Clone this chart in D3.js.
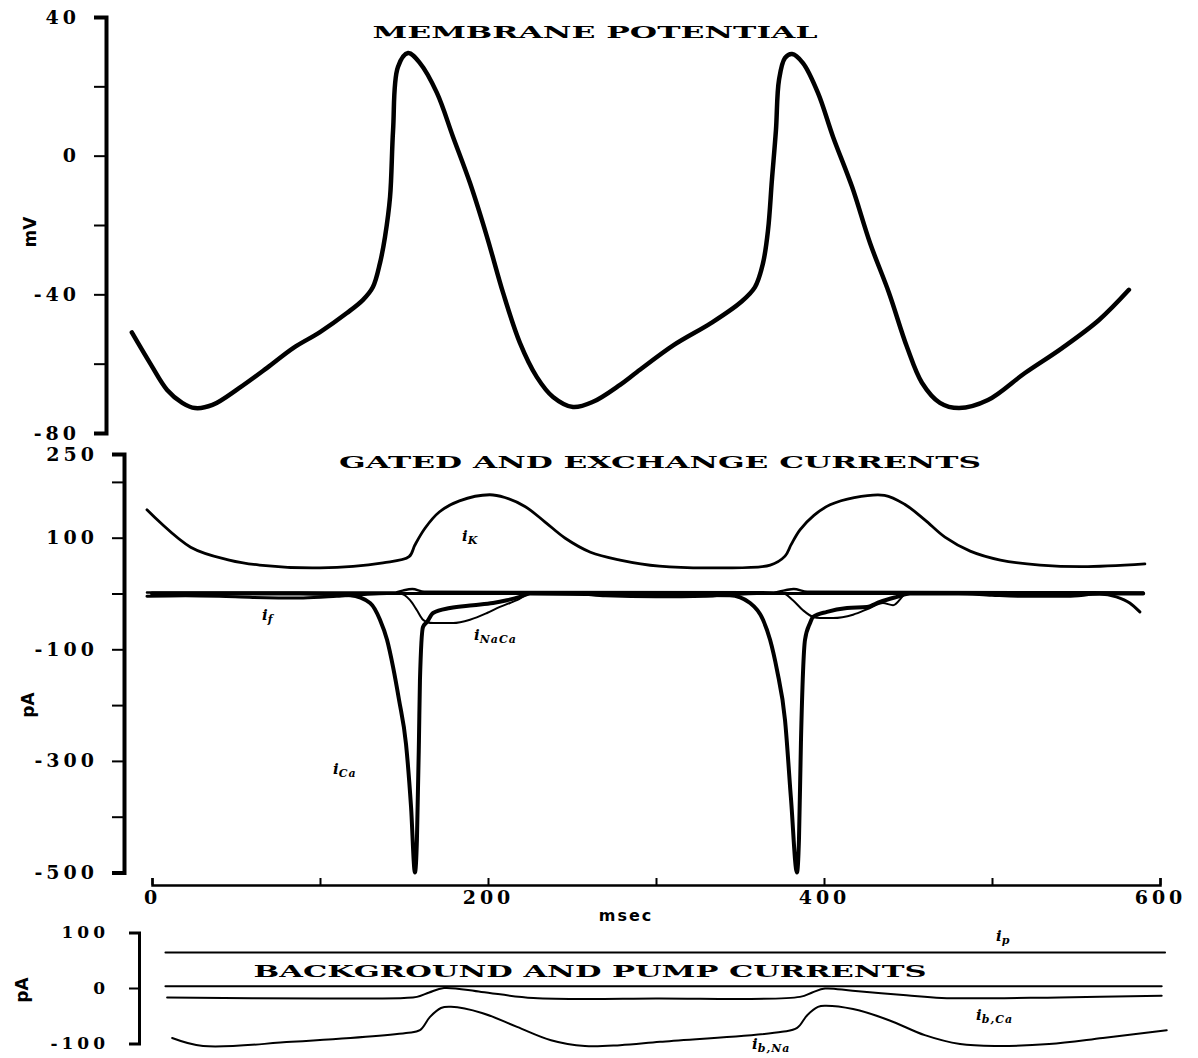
<!DOCTYPE html>
<html>
<head>
<meta charset="utf-8">
<script src="https://cdn.jsdelivr.net/npm/d3@7"></script>
<style>
  body { margin: 0; background: #fff; }
  svg { display: block; }
  .tick text { font-family: "DejaVu Serif", serif; font-weight: bold; }
</style>
</head>
<body>
<svg width="1198" height="1058"></svg>
<script>
// time in msec, values in mV / pA

const membranePotential = [
  [-12, -51], [-1, -60], [9, -67.6], [18, -71.3], [25.6, -72.8], [36, -71.9], [52, -67], [68.5, -61.2],
  [84, -55.5], [100, -50.9], [116, -45.4], [125.6, -41.6], [131.5, -37.9], [135.7, -31], [138.7, -23.4],
  [141.7, -11.9], [143.5, 7.4], [146.4, 25.6], [152.4, 29.6], [159.5, 26.7], [169.6, 18.1], [179.2, 5.4],
  [189.3, -7.9], [199.4, -23.4], [209, -39.6], [219, -54], [229, -63.8], [238.7, -69.6], [250.6, -72.5],
  [262.5, -71], [278.6, -66.1], [288.7, -62.4], [310.7, -54.6], [332.7, -48.3], [350.6, -42.2],
  [358.9, -37.9], [363.7, -31], [366.7, -21.4], [369, -7], [371.4, 7.4], [373.2, 21.8], [376.8, 28.2],
  [381, 29.3], [387.5, 26.7], [396.4, 18.1], [405.4, 5.4], [416.7, -9], [427.4, -25.2], [438.7, -39.6],
  [449.4, -55.2], [458.3, -65.5], [469, -71.3], [480.4, -72.8], [497.6, -70.5], [519.6, -62.7],
  [541.7, -55.5], [563.7, -47.4], [581.5, -38.7]
];

const iK = [
  [-3, 150], [23, 83], [46, 60], [64, 51], [100, 46], [137.5, 55], [153, 66], [156.5, 87], [162.5, 117],
  [171, 146], [183, 166], [201, 177], [210, 172], [222, 156], [234, 128], [246, 99], [261, 74],
  [278.6, 60], [302, 49], [338, 46], [368, 51], [376.8, 67], [380.5, 88], [385.7, 114], [394, 140],
  [403.6, 159], [418, 172], [436, 176], [448, 160], [460, 132], [472, 101], [487, 76], [505, 60],
  [528.6, 51], [554, 48], [591, 53]
];

const iBaseline = [
  [-3, 2], [145, 2], [150, 6], [155, 8], [162, 3], [370, 2], [377, 6], [382, 8], [390, 3], [590, 2]
];

const iF = [
  [-3, -5], [20, -4], [40, -5], [60, -7], [90, -8], [110, -5], [125, -2], [140, 0], [250, 0],
  [270, -4], [300, -6], [330, -5], [345, -2], [360, 0], [480, 0], [500, -3], [520, -5], [545, -5],
  [564, -1], [574, -6], [582, -17], [588, -33]
];

const iCa = [
  [0, 0], [88, 0], [118, -3], [129.8, -17], [135.7, -47], [139.9, -83], [143.5, -132], [147, -190],
  [151.2, -270], [154.2, -383], [156.5, -500], [157.7, -441], [158.9, -263], [159.5, -155], [161.3, -60],
  [163.7, -51], [167.3, -35], [177.4, -26], [191.1, -21], [203, -17], [211.3, -12], [219, -6], [225, 0],
  [344, -3], [356, -17], [363.7, -47], [367.9, -83], [372, -137], [376.8, -227], [380.4, -370],
  [383.9, -500], [385.1, -441], [386.3, -263], [388.7, -83], [391.7, -53], [393.5, -42], [401.8, -33],
  [413.7, -26], [425.6, -24], [433.3, -15], [443.5, -6], [451.2, 0], [590, 0]
];

const iNaCa = [
  [0, 0], [147.6, 0], [153.6, -12], [157.7, -30], [161.3, -47], [163.7, -51], [167.3, -53], [179.2, -53],
  [189.3, -47], [199.4, -35], [207.1, -24], [213.1, -17], [217.3, -12], [225, 0], [375.6, 0],
  [381.5, -12], [387.5, -30], [393.5, -42], [397.6, -44], [405.4, -44], [417.3, -38], [427.4, -26],
  [435.1, -17], [441.1, -21], [449.4, 0], [590, 0]
];

const iP = [[8, 64], [603, 64]];
const iBgZero = [[8, 3], [601, 3]];

const iBCa = [
  [9, -17], [100, -19], [150, -18], [157.7, -16], [165, -8], [173.8, 0], [196, -7], [227, -18],
  [300, -19], [385.7, -16], [393, -8], [400.6, -1], [417, -5], [449, -13], [470, -18], [540, -17], [601, -14]
];

const iBNa = [
  [12, -90], [30.4, -104.5], [83, -97], [151.2, -81], [159.5, -76], [165.5, -52], [172, -36], [178, -34],
  [196.4, -45], [217.3, -70], [237.5, -94], [257.7, -104.5], [278.6, -103], [302.4, -97], [375, -79],
  [384, -72], [390, -49], [396.4, -34], [400.6, -32], [417.3, -38], [438.7, -58], [460, -85], [481, -101],
  [502.4, -104.5], [534, -101], [566, -90], [604, -76]
];

const mvTicks = [40, 20, 0, -20, -40, -60, -80];
const mvLabels = [40, 0, -40, -80];
const gatedTicks = [250, 200, 100, 0, -100, -200, -300, -400, -500];
const gatedLabels = [250, 100, -100, -300, -500];
const bgTicks = [100, 0, -100];
const timeTicks = [0, 100, 200, 300, 400, 500, 600];
const timeLabels = [0, 200, 400, 600];

const svg = d3.select("svg");

const x = d3.scaleLinear().domain([0, 600]).range([152, 1160]);
const yMv = d3.scaleLinear().domain([-80, 40]).range([433, 17]);
const yGated = d3.scaleLinear().domain([-500, 250]).range([872.5, 454]);
const yBg = d3.scaleLinear().domain([-100, 100]).range([1043.5, 932.5]);

const smooth = d3.curveCatmullRom.alpha(0.5);

function drawLine(data, y, width, curve) {
  const line = d3.line()
    .x(d => x(d[0]))
    .y(d => y(d[1]))
    .curve(curve || d3.curveMonotoneX);
  svg.append("path")
    .datum(data)
    .attr("d", line)
    .attr("fill", "none")
    .attr("stroke", "#000")
    .attr("stroke-width", width)
    .attr("stroke-linejoin", "round")
    .attr("stroke-linecap", "round");
}

function styleAxis(g, domainWidth, tickWidth, fontSize) {
  g.select(".domain").attr("stroke", "#000").attr("stroke-width", domainWidth);
  g.selectAll(".tick line").attr("stroke", "#000").attr("stroke-width", tickWidth);
  g.selectAll(".tick text")
    .attr("fill", "#000")
    .attr("font-size", fontSize)
    .attr("letter-spacing", "4px");
}

function title(txt, cx, y, len, size) {
  svg.append("text")
    .attr("x", cx)
    .attr("y", y)
    .attr("text-anchor", "middle")
    .attr("font-family", "DejaVu Serif, serif")
    .attr("font-weight", "bold")
    .attr("font-size", size)
    .attr("textLength", len)
    .attr("lengthAdjust", "spacingAndGlyphs")
    .text(txt);
}

function yTitle(txt, cx, cy) {
  svg.append("text")
    .attr("transform", `translate(${cx}, ${cy}) rotate(-90)`)
    .attr("text-anchor", "middle")
    .attr("font-family", "DejaVu Sans, sans-serif")
    .attr("font-weight", "bold")
    .attr("font-size", 17)
    .text(txt);
}

function curveLabel(main, sub, lx, ly) {
  const t = svg.append("text")
    .attr("x", lx)
    .attr("y", ly)
    .attr("font-family", "DejaVu Serif, serif")
    .attr("font-weight", "bold")
    .attr("font-style", "italic")
    .attr("font-size", 15);
  t.append("tspan").text(main);
  t.append("tspan").attr("dy", 3).attr("font-size", 11).attr("letter-spacing", "1px").text(sub);
}

// plot 1 - membrane potential
const gMv = svg.append("g")
  .attr("transform", "translate(106, 0)")
  .call(d3.axisLeft(yMv).tickValues(mvTicks).tickSize(12).tickSizeOuter(12).tickPadding(14)
    .tickFormat(d => mvLabels.includes(d) ? String(d) : ""));
styleAxis(gMv, 4, 2, 19);

yTitle("mV", 36, 232);
title("MEMBRANE POTENTIAL", 595, 38, 445, 17);
drawLine(membranePotential, yMv, 4.5, smooth);

// plot 2 - gated and exchange currents
const gGated = svg.append("g")
  .attr("transform", "translate(124, 0)")
  .call(d3.axisLeft(yGated).tickValues(gatedTicks).tickSize(12).tickSizeOuter(12).tickPadding(14)
    .tickFormat(d => gatedLabels.includes(d) ? String(d) : ""));
styleAxis(gGated, 4, 2, 19);

yTitle("pA", 34, 705);
title("GATED AND EXCHANGE CURRENTS", 660, 468, 642, 17);

drawLine(iBaseline, yGated, 2.5);
drawLine(iF, yGated, 3);
drawLine(iNaCa, yGated, 2);
drawLine(iK, yGated, 2.8, smooth);
drawLine(iCa, yGated, 4);

curveLabel("i", "K", 462, 541);
curveLabel("i", "f", 262, 620);
curveLabel("i", "NaCa", 474, 640);
curveLabel("i", "Ca", 333, 774);

// shared time axis
const gTime = svg.append("g")
  .attr("transform", "translate(0, 885)")
  .call(d3.axisBottom(x).tickValues(timeTicks).tickSize(-7).tickSizeOuter(-7).tickPadding(6)
    .tickFormat(d => timeLabels.includes(d) ? String(d) : ""));
styleAxis(gTime, 2.5, 2, 19);

svg.append("text")
  .attr("x", 626)
  .attr("y", 921)
  .attr("text-anchor", "middle")
  .attr("font-family", "DejaVu Sans, sans-serif")
  .attr("font-weight", "bold")
  .attr("font-size", 16)
  .attr("letter-spacing", "2px")
  .text("msec");

// plot 3 - background and pump currents
const gBg = svg.append("g")
  .attr("transform", "translate(139, 0)")
  .call(d3.axisLeft(yBg).tickValues(bgTicks).tickSize(10).tickSizeOuter(10).tickPadding(20)
    .tickFormat(d => String(d)));
styleAxis(gBg, 3, 2, 17);

yTitle("pA", 28, 990);
title("BACKGROUND AND PUMP CURRENTS", 590, 977, 673, 16);

drawLine(iP, yBg, 2);
drawLine(iBgZero, yBg, 2);
drawLine(iBCa, yBg, 2, smooth);
drawLine(iBNa, yBg, 2, smooth);

curveLabel("i", "p", 996, 941);
curveLabel("i", "b,Ca", 976, 1020);
curveLabel("i", "b,Na", 752, 1049);
</script>
</body>
</html>
